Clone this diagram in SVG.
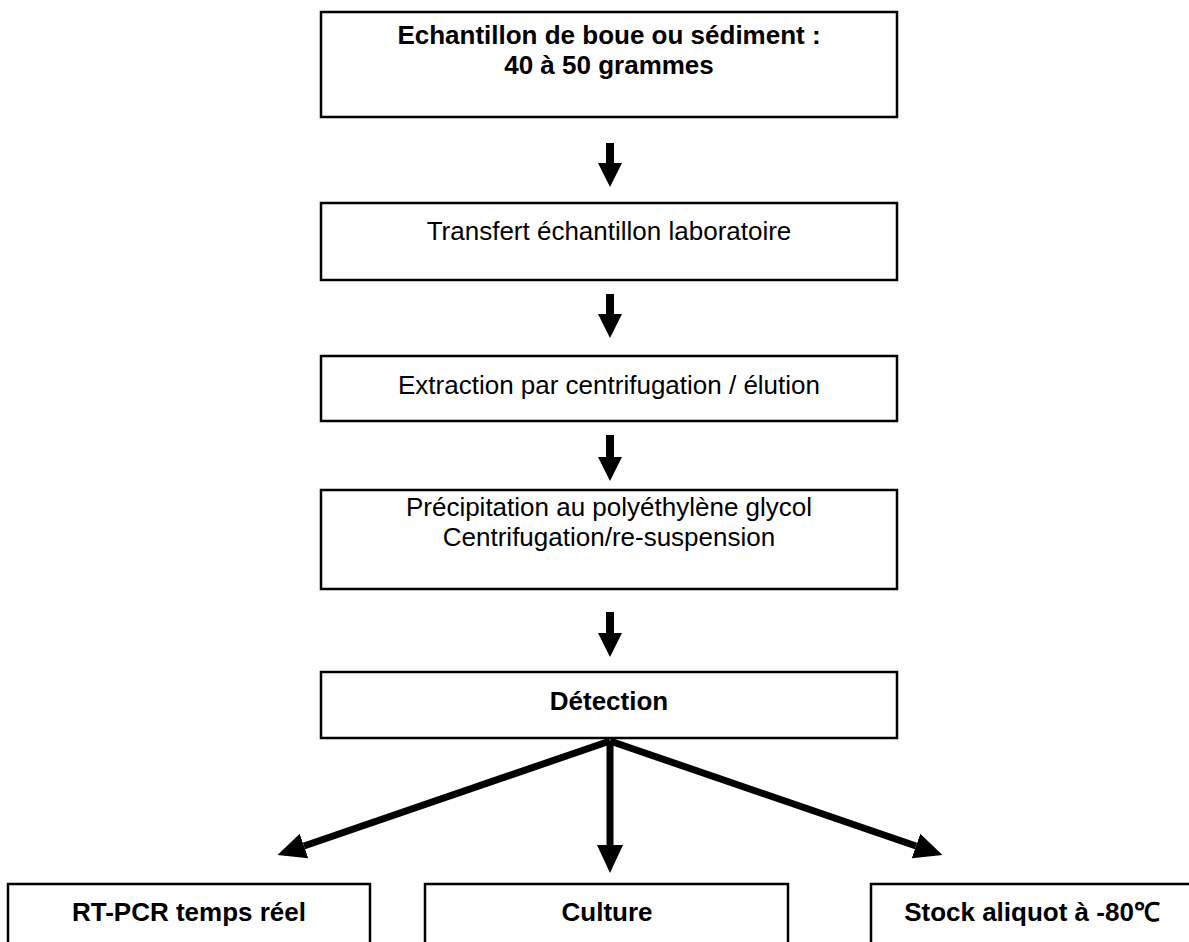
<svg xmlns="http://www.w3.org/2000/svg" width="1189" height="942" viewBox="0 0 1189 942">
<style>
.box{fill:#fff;stroke:#000;stroke-width:2.5}
.t{font-family:"Liberation Sans",Arial,sans-serif;font-size:26px;fill:#000;text-anchor:middle}
.b{font-weight:bold}
.sh{stroke:#000;stroke-width:8;fill:none}
.br{stroke:#000;stroke-width:7;fill:none}
</style>
<defs>
<marker id="hv" markerUnits="userSpaceOnUse" markerWidth="24" markerHeight="24" refX="0" refY="12" orient="auto" viewBox="0 0 24 24"><path d="M0,0 L24,12 L0,24 z" fill="#000"/></marker>
<marker id="hb" markerUnits="userSpaceOnUse" markerWidth="28" markerHeight="26" refX="0" refY="13" orient="auto" viewBox="0 0 28 26"><path d="M0,0 L28,13 L0,26 z" fill="#000"/></marker>
</defs>
<rect width="1189" height="942" fill="#fff"/>
<g id="n1"><rect class="box" x="321" y="12" width="576" height="105"/>
<text class="t b" x="609" y="44">Echantillon de boue ou sédiment :</text>
<text class="t b" x="609" y="74">40 à 50 grammes</text></g>
<g id="n2"><rect class="box" x="321" y="203" width="576" height="77"/>
<text class="t" x="609" y="240">Transfert échantillon laboratoire</text></g>
<g id="n3"><rect class="box" x="321" y="356" width="576" height="65"/>
<text class="t" x="609" y="394">Extraction par centrifugation / élution</text></g>
<g id="n4"><rect class="box" x="321" y="490" width="576" height="99"/>
<text class="t" x="609" y="516">Précipitation au polyéthylène glycol</text>
<text class="t" x="609" y="546">Centrifugation/re-suspension</text></g>
<g id="n5"><rect class="box" x="321" y="672" width="576" height="66"/>
<text class="t b" x="609" y="710">Détection</text></g>
<g id="n6"><rect class="box" x="8" y="884" width="362" height="80"/>
<text class="t b" x="189" y="921">RT-PCR temps réel</text></g>
<g id="n7"><rect class="box" x="425" y="884" width="363" height="80"/>
<text class="t b" x="607" y="921">Culture</text></g>
<g id="n8"><rect class="box" x="871" y="884" width="330" height="80"/>
<text class="t b" x="1032" y="921">Stock aliquot à -80℃</text></g>
<g id="connectors">
<line class="sh" x1="610" y1="143" x2="610" y2="163" marker-end="url(#hv)"/>
<line class="sh" x1="610" y1="294" x2="610" y2="314" marker-end="url(#hv)"/>
<line class="sh" x1="610" y1="435" x2="610" y2="457" marker-end="url(#hv)"/>
<line class="sh" x1="610" y1="612" x2="610" y2="633" marker-end="url(#hv)"/>
<line class="br" x1="610" y1="741" x2="304" y2="846" marker-end="url(#hb)"/>
<line class="br" x1="610" y1="741" x2="610" y2="845" marker-end="url(#hb)"/>
<line class="br" x1="610" y1="741" x2="916" y2="846" marker-end="url(#hb)"/>
</g>
</svg>
